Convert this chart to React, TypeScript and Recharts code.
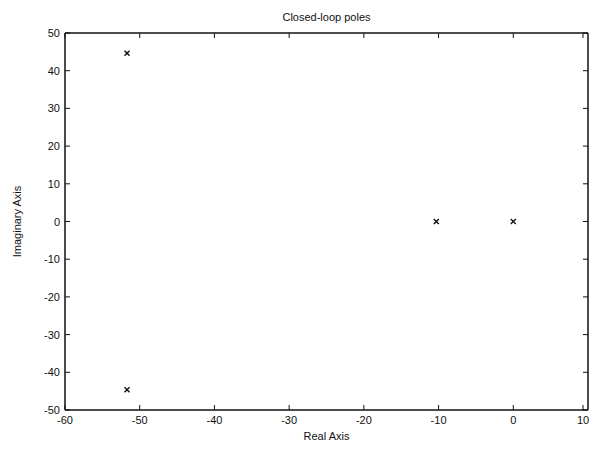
import { ScatterChart, Scatter, XAxis, YAxis } from 'recharts'

// closed-loop poles
const realParts = [-51.7, -51.7, -10.3, 0]
const imagParts = [44.6, -44.6, 0, 0]

const xTicks = [-60, -50, -40, -30, -20, -10, 0, 10]
const yTicks = [-50, -40, -30, -20, -10, 0, 10, 20, 30, 40, 50]

const FONT = '"Liberation Sans", Arial, sans-serif'
const INK = '#111'

const poles = realParts.map((re, i) => ({ re, im: imagParts[i] }))

const Cross = (props: any) => {
  const { cx, cy } = props
  const s = 2.5
  return (
    <g stroke={INK} strokeWidth={1.4}>
      <line x1={cx - s} y1={cy - s} x2={cx + s} y2={cy + s} />
      <line x1={cx - s} y1={cy + s} x2={cx + s} y2={cy - s} />
    </g>
  )
}

const BottomTick = ({ x, y, payload }: any) => (
  <g>
    <line x1={x} y1={y} x2={x} y2={y - 5} stroke={INK} />
    <text x={x} y={y + 14} textAnchor="middle" fontSize={11} fontFamily={FONT} fill={INK}>
      {payload.value}
    </text>
  </g>
)

const TopTick = ({ x, y }: any) => <line x1={x} y1={y} x2={x} y2={y + 5} stroke={INK} />

const LeftTick = ({ x, y, payload }: any) => (
  <g>
    <line x1={x} y1={y} x2={x + 5} y2={y} stroke={INK} />
    <text x={x - 5} y={y + 4} textAnchor="end" fontSize={11} fontFamily={FONT} fill={INK}>
      {payload.value}
    </text>
  </g>
)

const RightTick = ({ x, y }: any) => <line x1={x} y1={y} x2={x - 5} y2={y} stroke={INK} />

export default function App() {
  return (
    <div style={{ position: 'absolute', left: 0, top: 0, width: 591, height: 449, background: '#fff' }}>
      <div
        style={{
          position: 'absolute', left: 65, width: 523, top: 11, textAlign: 'center',
          fontFamily: FONT, fontSize: 11, color: INK,
        }}
      >
        Closed-loop poles
      </div>
      <ScatterChart width={591} height={449} margin={{ top: 32, right: 2, bottom: 9, left: 10 }}>
        <XAxis
          xAxisId="bottom"
          type="number"
          dataKey="re"
          domain={[-60, 10]}
          ticks={xTicks}
          allowDataOverflow
          height={30}
          tickSize={0}
          tickMargin={0}
          tickLine={false}
          tick={<BottomTick />}
          axisLine={{ stroke: INK, strokeWidth: 1.5 }}
          label={{ value: 'Real Axis', position: 'insideBottom', offset: 0, fontSize: 11, fontFamily: FONT, fill: INK }}
        />
        <XAxis
          xAxisId="top"
          orientation="top"
          type="number"
          dataKey="re"
          domain={[-60, 10]}
          ticks={xTicks}
          allowDataOverflow
          height={1}
          tickSize={0}
          tickMargin={0}
          tickLine={false}
          tick={<TopTick />}
          axisLine={{ stroke: INK, strokeWidth: 1.5 }}
        />
        <YAxis
          yAxisId="left"
          type="number"
          dataKey="im"
          domain={[-50, 50]}
          ticks={yTicks}
          allowDataOverflow
          width={55}
          tickSize={0}
          tickMargin={0}
          tickLine={false}
          tick={<LeftTick />}
          axisLine={{ stroke: INK, strokeWidth: 1.5 }}
          label={{
            value: 'Imaginary Axis', angle: -90, position: 'insideLeft', offset: 7,
            fontSize: 11, fontFamily: FONT, fill: INK, style: { textAnchor: 'middle' },
          }}
        />
        <YAxis
          yAxisId="right"
          orientation="right"
          type="number"
          dataKey="im"
          domain={[-50, 50]}
          ticks={yTicks}
          allowDataOverflow
          width={1}
          tickSize={0}
          tickMargin={0}
          tickLine={false}
          tick={<RightTick />}
          axisLine={{ stroke: INK, strokeWidth: 1.5 }}
        />
        <Scatter
          data={poles}
          xAxisId="bottom"
          yAxisId="left"
          shape={<Cross />}
          isAnimationActive={false}
        />
      </ScatterChart>
    </div>
  )
}
